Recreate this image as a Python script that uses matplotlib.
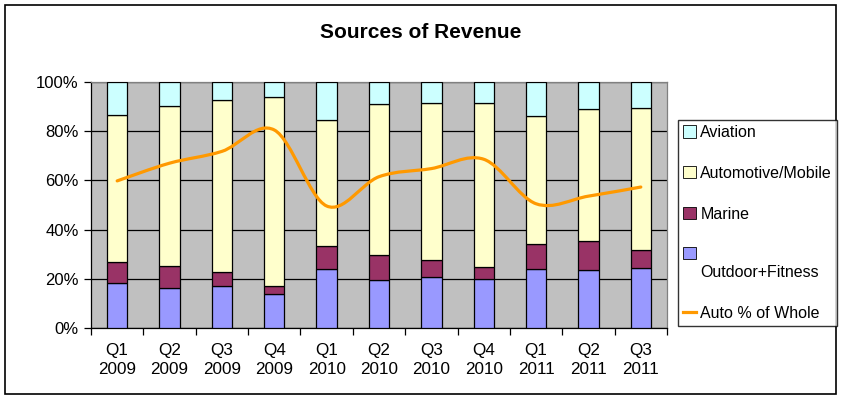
import numpy as np
import matplotlib
matplotlib.use("Agg")
import matplotlib.pyplot as plt
from matplotlib.path import Path
from matplotlib.patches import PathPatch, Rectangle
from matplotlib.lines import Line2D
from matplotlib.legend_handler import HandlerPatch
from matplotlib.ticker import FixedLocator, PercentFormatter

# data (percent of quarterly revenue)
quarters = ["Q1\n2009", "Q2\n2009", "Q3\n2009", "Q4\n2009", "Q1\n2010", "Q2\n2010",
            "Q3\n2010", "Q4\n2010", "Q1\n2011", "Q2\n2011", "Q3\n2011"]
outdoor = [18.2, 16.1, 17.0, 14.0, 23.8, 19.4, 20.6, 20.1, 23.8, 23.4, 24.3]
marine = [8.5, 9.1, 5.6, 3.0, 9.4, 10.1, 6.9, 4.6, 10.3, 11.8, 7.3]
automotive = [59.8, 65.0, 69.9, 76.8, 51.2, 61.4, 63.8, 66.6, 51.9, 53.7, 57.7]
aviation = [13.5, 9.8, 7.5, 6.2, 15.6, 9.1, 8.7, 8.7, 14.0, 11.1, 10.7]
auto_share = [59.8, 67.0, 71.8, 80.5, 49.6, 61.5, 64.8, 68.6, 50.5, 53.6, 57.3]

plt.rcParams['font.family'] = ['Liberation Sans', 'DejaVu Sans']
plt.rcParams['font.size'] = 11.5

fig = plt.figure(figsize=(8.42, 3.99), dpi=100)
fig.patches.append(Rectangle((5 / 842, 5 / 399), 831 / 842, 389 / 399, transform=fig.transFigure,
                             fill=False, edgecolor='black', linewidth=1.2))
ax = fig.add_axes([91 / 842, 71 / 399, 576 / 842, 246 / 399])
ax.set_facecolor('#C0C0C0')

x = np.arange(len(quarters))
w = 0.39
kw = dict(width=w, edgecolor='black', linewidth=0.9, zorder=3)
b1 = ax.bar(x, outdoor, color='#9999FF', **kw)
bottom = np.array(outdoor)
b2 = ax.bar(x, marine, bottom=bottom, color='#993366', **kw)
bottom = bottom + marine
b3 = ax.bar(x, automotive, bottom=bottom, color='#FFFFCC', **kw)
bottom = bottom + automotive
b4 = ax.bar(x, aviation, bottom=bottom, color='#CCFFFF', **kw)

# smoothed line, bezier segments through the data points (like Excel's smoothed line)
pts = np.column_stack([x, auto_share]).astype(float)
ext = np.vstack([pts[0], pts, pts[-1]])
verts = [tuple(pts[0])]
codes = [Path.MOVETO]
for i in range(len(pts) - 1):
    p0, p1, p2, p3 = ext[i], ext[i + 1], ext[i + 2], ext[i + 3]
    c1 = p1 + (p2 - p0) / 6
    c2 = p2 - (p3 - p1) / 6
    verts += [tuple(c1), tuple(c2), tuple(p2)]
    codes += [Path.CURVE4] * 3
ax.add_patch(PathPatch(Path(verts, codes), fill=False, edgecolor='#FF9900',
                       linewidth=2.3, zorder=4, capstyle='round', joinstyle='round'))

ax.set_xlim(-0.5, len(quarters) - 0.5)
ax.set_ylim(0, 100)
ax.set_yticks([0, 20, 40, 60, 80, 100])
ax.yaxis.set_major_formatter(PercentFormatter(decimals=0))
ax.grid(axis='y', color='black', linewidth=0.9, zorder=1)
ax.set_axisbelow(True)

ax.set_xticks(x)
ax.set_xticklabels(quarters, linespacing=1.35, fontsize=12.3)
ax.tick_params(axis='x', which='major', length=0, pad=11)
ax.xaxis.set_minor_locator(FixedLocator(np.arange(-0.5, len(quarters), 1.0)))
ax.tick_params(axis='x', which='minor', length=5, direction='out', width=0.9)
ax.tick_params(axis='y', length=5, direction='out', width=0.9, pad=4, labelsize=12)

for side in ['top', 'right']:
    ax.spines[side].set_color('#808080')
    ax.spines[side].set_linewidth(0.9)
ax.spines['left'].set_linewidth(0.9)
ax.spines['bottom'].set_linewidth(0.9)

fig.text(421 / 842, 1 - 32 / 399, 'Sources of Revenue', ha='center', va='center',
         fontsize=15, fontweight='bold')


def raised_box(legend, orig_handle, xdescent, ydescent, width, height, fontsize):
    # marker sits on the first (blank) line of a wrapped label, as in the original
    return Rectangle((-xdescent, -ydescent + 0.72 * fontsize), width, height)


outdoor_handle = b1.patches[0]
line_handle = Line2D([], [], color='#FF9900', linewidth=2.3)
handles = [b4.patches[0], b3.patches[0], b2.patches[0], outdoor_handle, line_handle]
labels = ['Aviation', 'Automotive/Mobile', 'Marine', ' \nOutdoor+Fitness', 'Auto % of Whole']
leg = fig.legend(handles, labels, loc='center left', bbox_to_anchor=(678 / 842, 1 - 223 / 399),
                 frameon=True, fancybox=False, shadow=False, edgecolor='black',
                 handlelength=0.8, handleheight=0.8, handletextpad=0.3,
                 labelspacing=1.62, borderpad=0.3, borderaxespad=0, fontsize=11.5,
                 handler_map={outdoor_handle: HandlerPatch(patch_func=raised_box)})
leg.get_frame().set_linewidth(1.0)
leg.legend_handles[4].set_linewidth(2.3)
for h in leg.legend_handles[:4]:
    h.set_linewidth(0.6)

fig.savefig('out.png', dpi=100)
